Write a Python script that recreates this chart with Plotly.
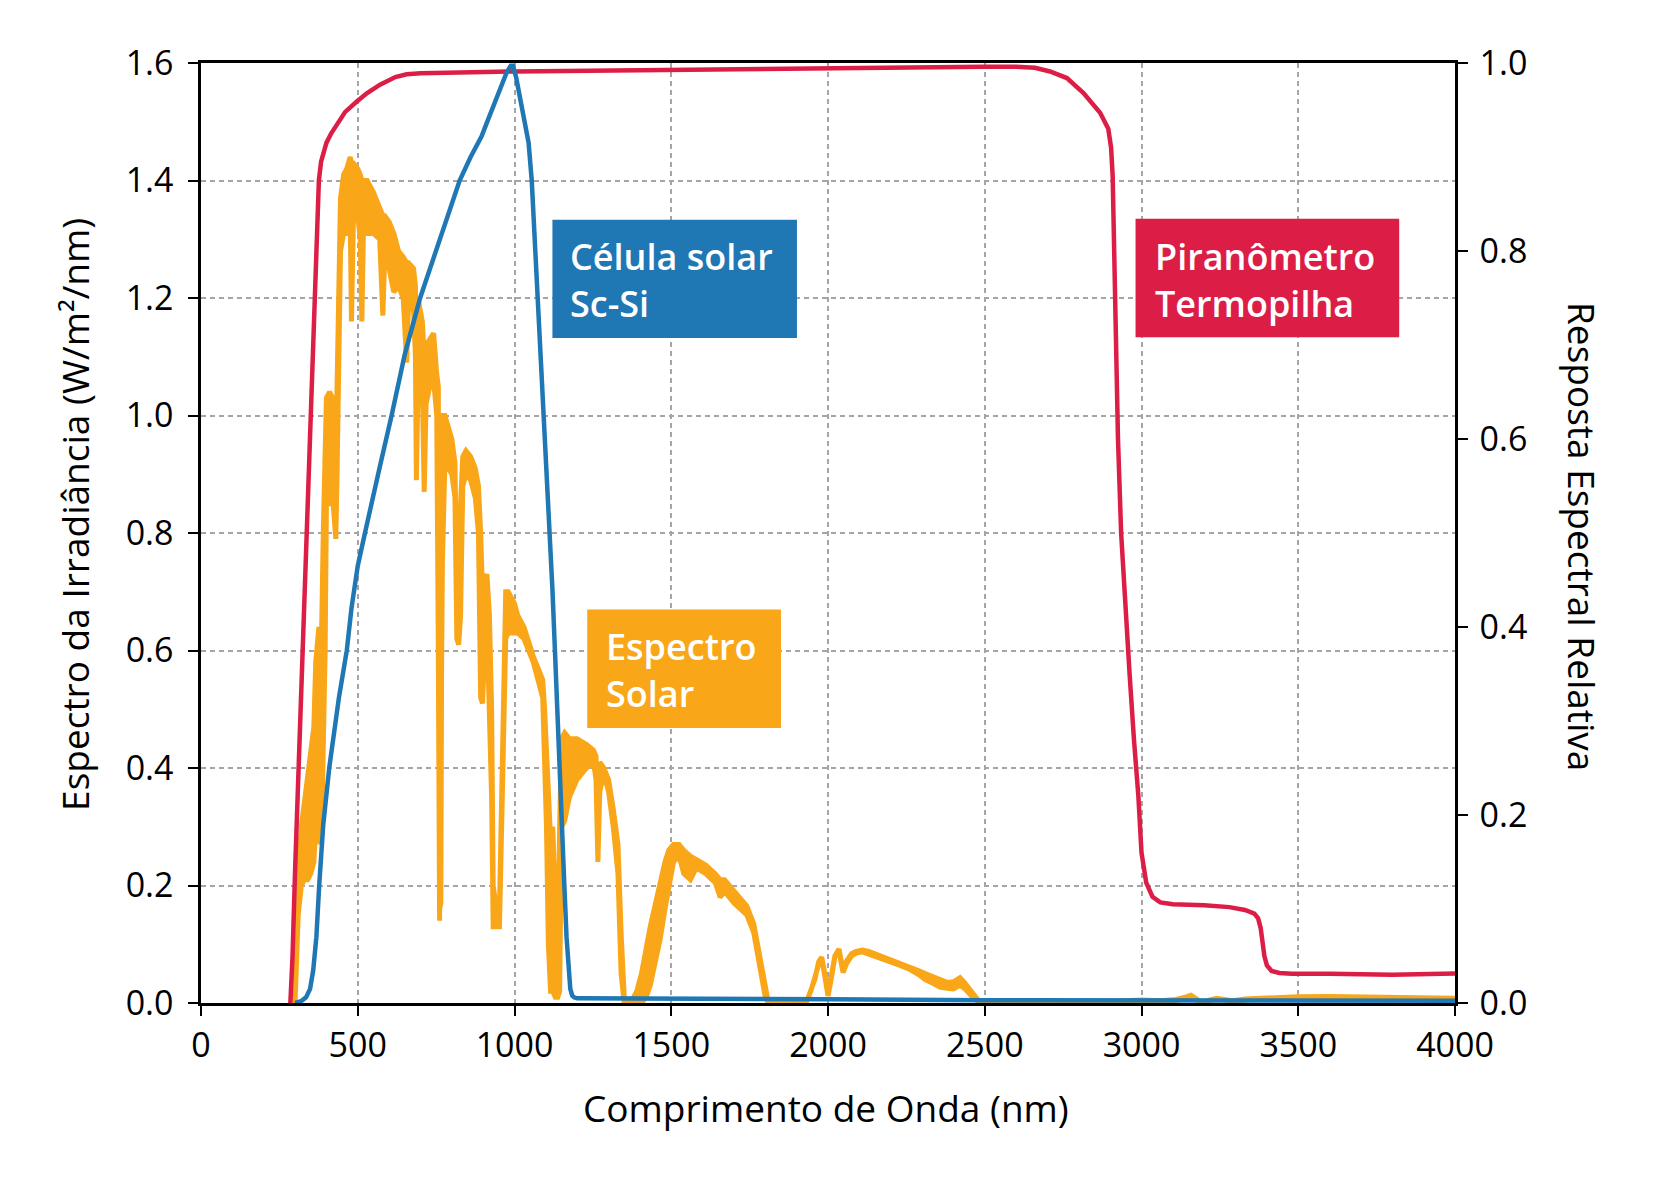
import plotly.graph_objects as go

# ---------------- data ----------------
# Solar spectrum (W/m^2/nm): wavelength and upper / lower edge of the dense fine structure band
solar_nm = [280, 295, 300, 305, 310, 320, 330, 340, 350, 360, 366, 372, 376, 380, 385, 390, 396, 400, 410, 420,
            426, 430, 434, 440, 445, 455, 465, 476, 480, 486, 500, 508, 513, 518, 530, 550, 570, 580, 586, 600,
            615, 630, 645, 656, 662, 678, 684, 687, 692, 700, 706, 712, 718, 730, 742, 752, 757, 761, 765, 770,
            778, 800, 810, 816, 822, 828, 835, 845, 860, 875, 885, 892, 898, 905, 912, 920, 927, 932, 945, 952,
            958, 965, 972, 980, 990, 1000, 1010, 1030, 1060, 1090, 1096, 1102, 1108, 1115, 1122, 1130, 1138, 1144, 1150, 1160,
            1175, 1199, 1230, 1252, 1260, 1266, 1272, 1285, 1300, 1315, 1330, 1340, 1350, 1370, 1390, 1405, 1420, 1433, 1450, 1465,
            1480, 1492, 1507, 1525, 1540, 1561, 1580, 1610, 1640, 1656, 1670, 1700, 1741, 1763, 1784, 1800, 1810, 1930, 1945, 1958,
            1970, 1980, 1990, 2000, 2010, 2022, 2035, 2048, 2060, 2075, 2090, 2110, 2130, 2155, 2180, 2200, 2230, 2262, 2290, 2310,
            2336, 2357, 2380, 2400, 2421, 2435, 2448, 2465, 2480, 2495, 2900, 2950, 3000, 3060, 3110, 3140, 3158, 3175, 3195, 3215,
            3240, 3265, 3290, 3330, 3400, 3500, 3600, 3700, 3800, 3900, 4000]
solar_upper = [0.0, 0.0, 0.03, 0.12, 0.22, 0.30, 0.34, 0.38, 0.42, 0.47, 0.58, 0.62, 0.64, 0.63, 0.64, 0.80, 1.00, 1.03, 1.04, 1.03,
               1.00, 0.95, 1.05, 1.30, 1.37, 1.41, 1.42, 1.44, 1.43, 1.43, 1.42, 1.41, 1.40, 1.40, 1.40, 1.38, 1.35, 1.34, 1.34, 1.33,
               1.31, 1.28, 1.27, 1.26, 1.26, 1.25, 1.22, 1.10, 1.20, 1.18, 1.16, 1.10, 1.12, 1.13, 1.14, 1.07, 1.05, 0.16, 0.17, 1.00,
               1.00, 0.96, 0.92, 0.70, 0.64, 0.85, 0.93, 0.94, 0.93, 0.91, 0.88, 0.80, 0.70, 0.72, 0.73, 0.66, 0.50, 0.20, 0.15, 0.16,
               0.35, 0.55, 0.70, 0.70, 0.69, 0.68, 0.66, 0.64, 0.59, 0.55, 0.50, 0.42, 0.33, 0.28, 0.30, 0.15, 0.06, 0.30, 0.45, 0.46,
               0.45, 0.45, 0.44, 0.43, 0.42, 0.30, 0.41, 0.40, 0.38, 0.33, 0.27, 0.12, 0.01, 0.0, 0.02, 0.05, 0.10, 0.13, 0.17, 0.21,
               0.24, 0.26, 0.27, 0.27, 0.26, 0.25, 0.245, 0.235, 0.22, 0.21, 0.21, 0.19, 0.165, 0.135, 0.075, 0.02, 0.0, 0.0, 0.02, 0.04,
               0.07, 0.078, 0.05, 0.016, 0.045, 0.08, 0.092, 0.056, 0.072, 0.084, 0.088, 0.09, 0.088, 0.083, 0.078, 0.073, 0.068, 0.062, 0.055, 0.05,
               0.045, 0.04, 0.035, 0.036, 0.043, 0.035, 0.026, 0.012, 0.004, 0.0, 0.0, 0.004, 0.005, 0.004, 0.006, 0.01, 0.013, 0.007, 0.0, 0.005,
               0.008, 0.006, 0.004, 0.007, 0.009, 0.0105, 0.011, 0.0105, 0.0095, 0.009, 0.009]
solar_lower = [0.0, 0.0, 0.0, 0.08, 0.15, 0.20, 0.21, 0.21, 0.22, 0.24, 0.30, 0.32, 0.30, 0.27, 0.30, 0.40, 0.60, 0.85, 0.85, 0.86,
               0.82, 0.79, 0.90, 1.05, 1.28, 1.31, 1.31, 1.33, 1.16, 1.33, 1.34, 1.30, 1.16, 1.31, 1.31, 1.31, 1.30, 1.17, 1.27, 1.25,
               1.21, 1.22, 1.20, 1.09, 1.19, 1.18, 1.10, 0.89, 1.05, 1.12, 1.05, 0.87, 1.02, 1.05, 1.06, 1.00, 0.60, 0.14, 0.15, 0.75,
               0.92, 0.90, 0.86, 0.62, 0.61, 0.66, 0.88, 0.90, 0.89, 0.86, 0.80, 0.52, 0.51, 0.60, 0.65, 0.52, 0.35, 0.13, 0.13, 0.13,
               0.20, 0.45, 0.62, 0.63, 0.63, 0.63, 0.63, 0.62, 0.58, 0.52, 0.44, 0.30, 0.10, 0.02, 0.02, 0.01, 0.01, 0.02, 0.30, 0.31,
               0.35, 0.38, 0.40, 0.41, 0.38, 0.24, 0.36, 0.39, 0.36, 0.30, 0.22, 0.05, 0.0, 0.0, 0.0, 0.0, 0.01, 0.03, 0.07, 0.11,
               0.16, 0.20, 0.24, 0.25, 0.22, 0.21, 0.23, 0.22, 0.205, 0.18, 0.19, 0.17, 0.15, 0.12, 0.06, 0.01, 0.0, 0.0, 0.02, 0.04,
               0.065, 0.075, 0.045, 0.012, 0.04, 0.078, 0.088, 0.052, 0.068, 0.08, 0.085, 0.087, 0.085, 0.08, 0.075, 0.07, 0.064, 0.057, 0.048, 0.04,
               0.033, 0.027, 0.025, 0.024, 0.03, 0.025, 0.018, 0.008, 0.002, 0.0, 0.0, 0.003, 0.004, 0.003, 0.004, 0.008, 0.011, 0.005, 0.0, 0.004,
               0.006, 0.005, 0.003, 0.006, 0.008, 0.0095, 0.010, 0.0095, 0.0085, 0.008, 0.008]

# Sc-Si solar cell relative response (right axis)
cell_nm = [300, 320, 335, 348, 358, 368, 377, 390, 409, 425, 440, 455, 465, 480, 500, 523, 545, 570, 608, 650,
           699, 740, 780, 825, 860, 880, 895, 910, 930, 955, 975, 988, 995, 1005, 1020, 1035, 1045, 1055, 1065, 1075,
           1085, 1095, 1104, 1113, 1121, 1129, 1136, 1143, 1151, 1159, 1166, 1172, 1178, 1184, 1190, 1200, 1300, 1600, 2000, 2500,
           3000, 3500, 4000]
cell_resp = [0.0, 0.002, 0.006, 0.015, 0.035, 0.07, 0.125, 0.19, 0.25, 0.29, 0.325, 0.355, 0.375, 0.42, 0.465, 0.5, 0.535, 0.57, 0.625, 0.69,
             0.75, 0.79, 0.83, 0.875, 0.9, 0.912, 0.922, 0.935, 0.952, 0.975, 0.99, 0.997, 0.997, 0.985, 0.96, 0.935, 0.915, 0.875, 0.81, 0.75,
             0.69, 0.625, 0.565, 0.5, 0.44, 0.375, 0.31, 0.25, 0.19, 0.125, 0.07, 0.035, 0.015, 0.008, 0.006, 0.005, 0.005, 0.0045, 0.004, 0.003,
             0.003, 0.0025, 0.0025]

# Thermopile pyranometer relative response (right axis)
thermo_nm = [285, 292, 300, 313, 326, 337, 348, 361, 376, 383, 390, 400, 415, 433, 460, 497, 530, 571, 620, 656,
             700, 1000, 1500, 2000, 2500, 2600, 2660, 2708, 2762, 2815, 2868, 2894, 2903, 2908, 2912, 2918, 2925, 2935, 2948, 2962,
             2976, 2990, 3000, 3015, 3035, 3060, 3100, 3200, 3280, 3330, 3360, 3372, 3380, 3386, 3392, 3400, 3415, 3440, 3480, 3600,
             3800, 4000]
thermo_resp = [0.0, 0.05, 0.14, 0.27, 0.38, 0.5, 0.625, 0.75, 0.875, 0.895, 0.905, 0.915, 0.925, 0.935, 0.948, 0.959, 0.968, 0.977, 0.985, 0.988,
               0.989, 0.991, 0.993, 0.995, 0.996, 0.996, 0.995, 0.991, 0.984, 0.968, 0.947, 0.93, 0.91, 0.88, 0.8, 0.7, 0.6, 0.5, 0.42, 0.35,
               0.28, 0.22, 0.16, 0.128, 0.113, 0.107, 0.105, 0.104, 0.102, 0.099, 0.095, 0.09, 0.08, 0.065, 0.05, 0.04, 0.034, 0.032, 0.031, 0.031,
               0.030, 0.0315]

x_ticks = [0, 500, 1000, 1500, 2000, 2500, 3000, 3500, 4000]
y_left_ticks = [0.0, 0.2, 0.4, 0.6, 0.8, 1.0, 1.2, 1.4, 1.6]
y_right_ticks = [0.0, 0.2, 0.4, 0.6, 0.8, 1.0]

# ---------------- style ----------------
ORANGE = "#faa619"
RED = "#dc1e46"
BLUE = "#1f77b4"
FONT = "Open Sans"
TICK_SIZE = 34
TITLE_SIZE = 37
BOX_SIZE = 36

fig = go.Figure()
# Solar spectrum drawn as a thick band (upper edge, then lower edge back)
band_x = solar_nm + solar_nm[::-1]
band_y = solar_upper + solar_lower[::-1]
fig.add_trace(go.Scatter(x=band_x, y=band_y, mode="lines", yaxis="y", fill="toself",
                         fillcolor=ORANGE, line=dict(color=ORANGE, width=5), showlegend=False))
fig.add_trace(go.Scatter(x=thermo_nm, y=thermo_resp, mode="lines", yaxis="y2",
                         line=dict(color=RED, width=4.5), showlegend=False))
fig.add_trace(go.Scatter(x=cell_nm, y=cell_resp, mode="lines", yaxis="y2",
                         line=dict(color=BLUE, width=4.5), showlegend=False))

axis_common = dict(showline=True, linecolor="black", linewidth=2.5, ticks="outside",
                   ticklen=10, tickwidth=2, tickcolor="black", zeroline=False,
                   tickfont=dict(family=FONT, size=TICK_SIZE, color="black"))
grid = dict(showgrid=True, gridcolor="#a5a5a5", gridwidth=1.5, griddash="5px,4px")

fig.update_layout(
    width=1659, height=1185,
    paper_bgcolor="white", plot_bgcolor="white",
    margin=dict(l=193, r=212, t=55, b=190),
    font=dict(family=FONT, color="black"),
    xaxis=dict(range=[0, 4000], tickvals=x_ticks, mirror=True, **axis_common, **grid),
    yaxis=dict(range=[0, 1.6], tickvals=y_left_ticks, tickformat=".1f", ticklabelstandoff=8,
               **axis_common, **grid),
    yaxis2=dict(range=[0, 1.0], tickvals=y_right_ticks, tickformat=".1f", overlaying="y",
                side="right", showgrid=False, ticklabelstandoff=5, **axis_common),
)

# Axis titles
fig.add_annotation(text="Comprimento de Onda (nm)", xref="paper", yref="paper", x=0.4984, y=-0.1116,
                   xanchor="center", yanchor="middle", showarrow=False,
                   font=dict(family=FONT, size=TITLE_SIZE, color="black"))
fig.add_annotation(text="Espectro da Irradiância (W/m²/nm)", xref="paper", yref="paper", x=-0.101, y=0.5196,
                   xanchor="center", yanchor="middle", showarrow=False, textangle=-90,
                   font=dict(family=FONT, size=TITLE_SIZE, color="black"))
fig.add_annotation(text="Resposta Espectral Relativa", xref="paper", yref="paper", x=1.1022, y=0.4966,
                   xanchor="center", yanchor="middle", showarrow=False, textangle=90,
                   font=dict(family=FONT, size=TITLE_SIZE, color="black"))

# Label boxes
boxes = [
    (BLUE, 1121, 1901, 1.132, 1.333, 1172, "Célula solar<br>Sc-Si", 1.23),
    (RED, 2981, 3822, 1.133, 1.335, 3037, "Piranômetro<br>Termopilha", 1.23),
    (ORANGE, 1232, 1850, 0.468, 0.670, 1285, "Espectro<br>Solar", 0.567),
]
for color, x0, x1, y0, y1, tx, label, ty in boxes:
    fig.add_shape(type="rect", xref="x", yref="y", x0=x0, x1=x1, y0=y0, y1=y1,
                  fillcolor=color, line=dict(width=0), layer="above")
    fig.add_annotation(text=label, xref="x", yref="y", x=tx, y=ty, xanchor="left", yanchor="middle",
                       align="left", showarrow=False,
                       font=dict(family=FONT, size=BOX_SIZE, color="white", weight=600))

fig.write_html("out.html")
